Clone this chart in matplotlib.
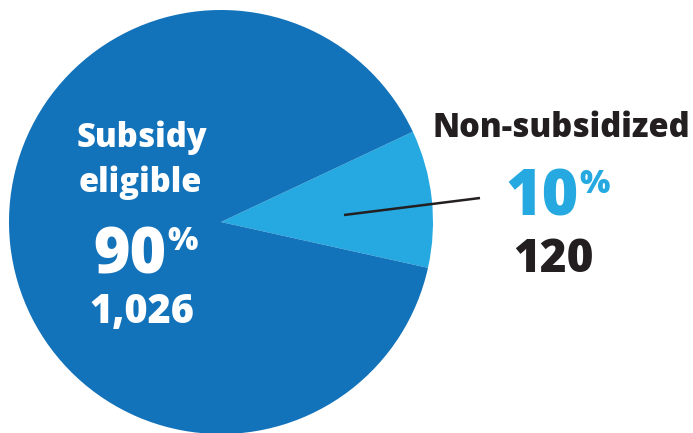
import matplotlib.pyplot as plt

# Data
labels = ["Subsidy\neligible", "Non-subsidized"]
counts = [1026, 120]
pct_labels = ["90", "10"]
count_labels = ["1,026", "120"]
colors = ["#1272BA", "#25A9E0"]

W, H = 693, 433
FONT = "Open Sans"
DARK = "#231F20"
WT = 800


def py(y):
    # pixel row (top-down) -> data y (bottom-up)
    return H - y


fig = plt.figure(figsize=(W / 100, H / 100), dpi=100)
ax = fig.add_axes([0, 0, 1, 1])

total = sum(counts)
small_angle = 360 * counts[1] / total
start = 25.2 - small_angle  # light wedge spans roughly -12.6 .. 25.2 degrees

ax.pie(counts[::-1], colors=colors[::-1], startangle=start, counterclock=True,
       center=(221, py(222)), radius=212, frame=True,
       wedgeprops=dict(linewidth=0))

ax.set_xlim(0, W)
ax.set_ylim(0, H)
ax.set_aspect("equal")
ax.axis("off")

# leader line
ax.plot([344, 480], [py(215), py(198)], color=DARK, lw=1.8, solid_capstyle="butt")

# big slice labels (white)
ax.text(142, py(147), "Subsidy", color="white", fontsize=23.5, fontweight=WT,
        family=FONT, ha="center", va="baseline")
ax.text(140, py(192), "eligible", color="white", fontsize=23.5, fontweight=WT,
        family=FONT, ha="center", va="baseline")
ax.text(167, py(273), pct_labels[0], color="white", fontsize=45, fontweight=WT,
        family=FONT, ha="right", va="baseline")
ax.text(167, py(250), "%", color="white", fontsize=23, fontweight=WT,
        family=FONT, ha="left", va="baseline")
ax.text(142, py(323), count_labels[0], color="white", fontsize=28.5, fontweight=WT,
        family=FONT, ha="center", va="baseline")

# small slice labels
ax.text(561, py(137), labels[1], color=DARK, fontsize=23.5, fontweight=WT,
        family=FONT, ha="center", va="baseline")
ax.text(579, py(215), pct_labels[1], color=colors[1], fontsize=45, fontweight=WT,
        family=FONT, ha="right", va="baseline")
ax.text(579, py(193), "%", color=colors[1], fontsize=23, fontweight=WT,
        family=FONT, ha="left", va="baseline")
ax.text(553, py(272), count_labels[1], color=DARK, fontsize=33, fontweight=WT,
        family=FONT, ha="center", va="baseline")

fig.savefig("out.png", dpi=100)
